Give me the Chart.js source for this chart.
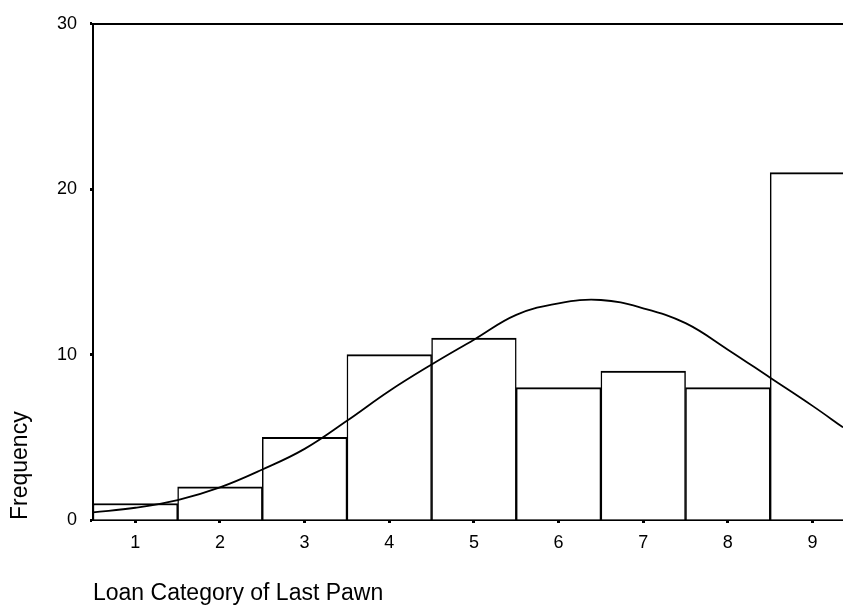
<!DOCTYPE html>
<html>
<head>
<meta charset="utf-8">
<script src="https://cdn.jsdelivr.net/npm/chart.js@4/dist/chart.umd.min.js"></script>
<style>
  body { margin: 0; background: #fff; }
  #wrap { width: 843px; height: 605px; }
</style>
</head>
<body>
<div id="wrap"><canvas id="histChart"></canvas></div>
<script>
// loan categories and their frequencies
const categories = [1, 2, 3, 4, 5, 6, 7, 8, 9];
const frequencies = [1, 2, 5, 10, 11, 8, 9, 8, 21];

// normal curve
const curveX = [0.5, 1, 1.5, 2, 2.5, 3, 3.5, 4, 4.5, 5, 5.5, 6, 6.5, 7, 7.5, 8, 8.5, 9, 9.36];
const curveY = [0.46, 0.74, 1.2, 1.97, 3.05, 4.3, 6.0, 7.8, 9.4, 10.9, 12.4, 13.1, 13.3, 12.8, 11.9, 10.3, 8.6, 6.9, 5.6];

const yTicks = [0, 10, 20, 30];

const font = "'Liberation Sans', Arial, sans-serif";

new Chart(document.getElementById("histChart"), {
  type: 'bar',
  data: {
    datasets: [{
        type: 'line',
        data: curveX.map((x, i) => ({x: x, y: curveY[i]})),
        borderColor: '#000',
        borderWidth: 1.8,
        pointRadius: 0,
        tension: 0.4,
        fill: false,
        order: 0
      }, {
        type: 'bar',
        data: categories.map((c, i) => ({x: c, y: frequencies[i]})),
        backgroundColor: '#fff',
        borderColor: '#000',
        borderWidth: {top: 2, left: 1.5, right: 1.5, bottom: 0},
        borderSkipped: false,
        barPercentage: 1,
        categoryPercentage: 1,
        order: 1
      }
    ]
  },
  options: {
    responsive: true,
    maintainAspectRatio: false,
    animation: false,
    layout: { padding: 0 },
    plugins: {
      legend: { display: false },
      tooltip: { enabled: false }
    },
    scales: {
      x: {
        type: 'linear',
        position: 'bottom',
        min: 0.5,
        max: 9.36,
        offset: false,
        afterBuildTicks: s => { s.ticks = categories.map(v => ({value: v})); },
        afterFit: s => { s.height = 85; },
        border: { display: true, color: '#000', width: 2 },
        grid: { offset: false, drawOnChartArea: false, drawTicks: true, tickLength: 3, tickWidth: 3, tickColor: '#000' },
        ticks: { color: '#000', padding: 9, maxRotation: 0, font: { family: font, size: 18 } },
        title: {
          display: true,
          text: 'Loan Category of Last Pawn',
          align: 'start',
          color: '#000',
          padding: { top: 0, bottom: 0 },
          font: { family: font, size: 23, lineHeight: 1 }
        }
      },
      x2: {
        type: 'linear',
        position: 'top',
        min: 0.5,
        max: 9.36,
        afterFit: s => { s.height = 21; },
        border: { display: true, color: '#000', width: 2 },
        grid: { display: false },
        ticks: { display: false }
      },
      y: {
        min: 0,
        max: 30,
        afterBuildTicks: s => { s.ticks = yTicks.map(v => ({value: v})); },
        afterFit: s => { s.width = 93; },
        border: { display: true, color: '#000', width: 2 },
        grid: { drawOnChartArea: false, drawTicks: true, tickLength: 3, tickWidth: 3, tickColor: '#000' },
        ticks: { color: '#000', padding: 13, font: { family: font, size: 18 } },
        title: {
          display: true,
          text: 'Frequency',
          align: 'start',
          color: '#000',
          padding: { top: 9, bottom: 0 },
          font: { family: font, size: 23, lineHeight: 1 }
        }
      }
    }
  }
});
</script>
</body>
</html>
